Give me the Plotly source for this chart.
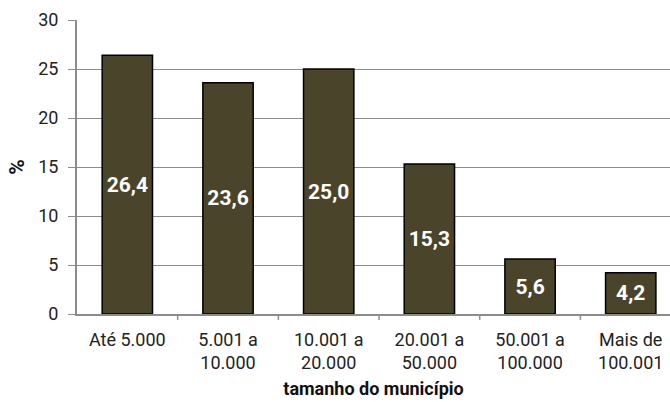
import plotly.graph_objects as go

categories = ["Até 5.000", "5.001 a<br>10.000", "10.001 a<br>20.000", "20.001 a<br>50.000", "50.001 a<br>100.000", "Mais de<br>100.001"]
values = [26.4, 23.6, 25.0, 15.3, 5.6, 4.2]
value_labels = ["26,4", "23,6", "25,0", "15,3", "5,6", "4,2"]
y_ticks = [0, 5, 10, 15, 20, 25, 30]

fig = go.Figure(go.Bar(
    x=list(range(len(categories))),
    y=values,
    text=value_labels,
    textposition="inside",
    insidetextanchor="middle",
    textangle=0,
    textfont=dict(family="Roboto", size=21, color="white", weight="bold"),
    marker=dict(color="#4a442b", line=dict(color="#000000", width=1.5)),
    width=0.5,
))

fig.update_layout(
    width=670, height=402,
    margin=dict(l=77, r=0, t=20, b=88),
    paper_bgcolor="white", plot_bgcolor="white",
    showlegend=False,
    font=dict(family="Roboto, Liberation Sans", size=18, color="#222"),
    xaxis=dict(
        tickmode="array", tickvals=list(range(len(categories))), ticktext=categories,
        range=[-0.5, 5.39], showgrid=False,
        showline=True, linecolor="#8c8c8c", linewidth=2,
        ticks="outside", ticklen=0, ticklabelstandoff=8,
        title=dict(text="<b>tamanho do município</b>", font=dict(size=18, color="#111"), standoff=10),
    ),
    yaxis=dict(
        range=[0, 30], tickvals=y_ticks,
        showgrid=True, gridcolor="#8c8c8c", gridwidth=1,
        showline=True, linecolor="#8c8c8c", linewidth=2,
        ticks="outside", ticklen=7, tickcolor="#8c8c8c",
        ticklabelstandoff=6,
        zeroline=False,
        title=dict(text="<b>%</b>", font=dict(size=21, color="#111"), standoff=8),
    ),
)

# category boundary tick marks on the x axis
for b in [0.5, 1.5, 2.5, 3.5, 4.5]:
    fig.add_shape(type="line", xref="x", yref="paper", x0=b, x1=b, y0=0, y1=-0.02,
                  line=dict(color="#8c8c8c", width=1.5))

fig.write_html("out.html")
